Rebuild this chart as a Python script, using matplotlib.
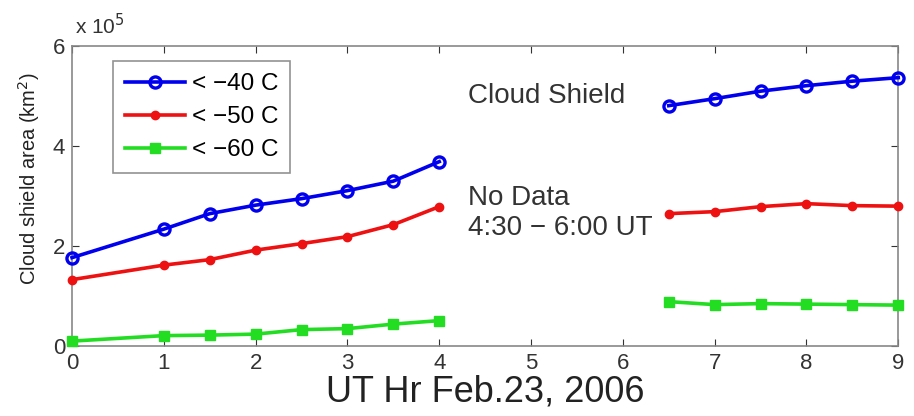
import matplotlib
matplotlib.use("Agg")
import matplotlib.pyplot as plt
import numpy as np

plt.rcParams['font.family'] = ['Liberation Sans', 'DejaVu Sans']

hours_a = [0, 1, 1.5, 2, 2.5, 3, 3.5, 4]
hours_b = [6.5, 7, 7.5, 8, 8.5, 9]
t40_a = [1.77, 2.34, 2.65, 2.82, 2.95, 3.11, 3.30, 3.69]
t40_b = [4.81, 4.95, 5.10, 5.21, 5.30, 5.37]
t50_a = [1.33, 1.62, 1.73, 1.92, 2.05, 2.19, 2.43, 2.79]
t50_b = [2.65, 2.69, 2.79, 2.85, 2.81, 2.80]
t60_a = [0.10, 0.21, 0.22, 0.24, 0.33, 0.35, 0.44, 0.51]
t60_b = [0.89, 0.83, 0.85, 0.84, 0.83, 0.82]
labels = ['< \u221240 C', '< \u221250 C', '< \u221260 C']
xticks = list(range(0, 10))
yticks = [0, 2, 4, 6]

fig = plt.figure(figsize=(9.14, 4.16), dpi=100)
ax = fig.add_axes([0.0788, 0.168, 0.904, 0.721])

blue = '#0000ee'
red = '#ee1111'
green = '#22dd22'
lw = 2.6
kw_b = dict(color=blue, lw=lw, marker='o', ms=8, mfc='none', mew=2.4, clip_on=False, zorder=3)
kw_r = dict(color=red, lw=lw, marker='o', ms=6, mfc=red, mew=1, clip_on=False, zorder=3)
kw_g = dict(color=green, lw=lw, marker='s', ms=7, mfc=green, mew=1, clip_on=False, zorder=3)
l1, = ax.plot(hours_a, t40_a, '-', label=labels[0], **kw_b)
ax.plot(hours_b, t40_b, '-', **kw_b)
l2, = ax.plot(hours_a, t50_a, '-', label=labels[1], **kw_r)
ax.plot(hours_b, t50_b, '-', **kw_r)
l3, = ax.plot(hours_a, t60_a, '-', label=labels[2], **kw_g)
ax.plot(hours_b, t60_b, '-', **kw_g)

ax.set_xlim(0, 9)
ax.set_ylim(0, 6)
ax.set_xticks(xticks)
ax.set_yticks(yticks)
ax.tick_params(axis='both', labelsize=16, colors='#333333', direction='in', length=5,
               top=True, right=True)
ax.tick_params(axis='x', pad=5)
ax.tick_params(axis='y', pad=5)
for s in ax.spines.values():
    s.set_color('#888888')
    s.set_linewidth(1.2)

ax.set_xlabel('UT Hr Feb.23, 2006', fontsize=26, color='#222222', labelpad=0)
ax.set_ylabel('Cloud shield area (km$^2$)', fontsize=14.5, color='#222222')
ax.yaxis.set_label_coords(-0.036, 0.557)
ax.text(0.003, 1.025, r'x 10$^5$', transform=ax.transAxes, fontsize=15, color='#333333',
        ha='left', va='bottom')

ax.text(4.31, 5.0, 'Cloud Shield', fontsize=20, color='#333333', va='center', ha='left')
ax.text(4.31, 2.67, 'No Data\n4:30 \u2212 6:00 UT', fontsize=20, color='#333333',
        va='center', ha='left', linespacing=1.2)

leg = ax.legend(handles=[l1, l2, l3], loc='upper left', bbox_to_anchor=(0.049, 0.95),
                fontsize=17.5, frameon=True, fancybox=False, handlelength=2.5,
                handletextpad=0.25, borderpad=0.5, labelspacing=0.45, borderaxespad=0)
leg.get_frame().set_edgecolor('#777777')
leg.get_frame().set_linewidth(1.2)

fig.savefig('out.png', dpi=100)
